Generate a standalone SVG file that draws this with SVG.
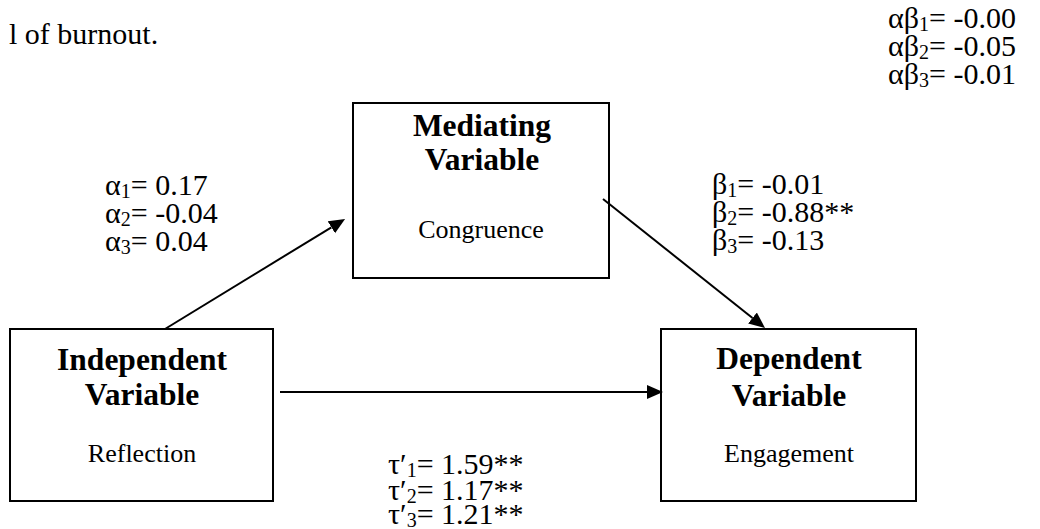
<svg xmlns="http://www.w3.org/2000/svg" width="1040" height="529" viewBox="0 0 1040 529">
  <style>
    text { font-family: "Liberation Serif", "Times New Roman", serif; fill: #000; }
    .title { font-size: 31.5px; font-weight: bold; text-anchor: middle; }
    .sub { font-size: 26px; text-anchor: middle; }
    .lbl { font-size: 30px; }
    .box { fill: #fff; stroke: #000; stroke-width: 2; }
    .edge { fill: none; stroke: #000; stroke-width: 2; }
  </style>
  <defs>
    <marker id="arrow" markerUnits="userSpaceOnUse" markerWidth="17" markerHeight="15" refX="0" refY="7" orient="auto">
      <path d="M0,0 L16,7 L0,14 Z" fill="#000"/>
    </marker>
  </defs>
  <rect width="1040" height="529" fill="#fff"/>

  <!-- running text fragment -->
  <text class="lbl" x="9" y="44">l of burnout.</text>

  <!-- indirect effects -->
  <g id="indirect-effects" class="lbl">
    <text x="888" y="28">αβ<tspan font-size="20" dy="3">1</tspan><tspan dy="-3">= -0.00</tspan></text>
    <text x="888" y="56">αβ<tspan font-size="20" dy="3">2</tspan><tspan dy="-3">= -0.05</tspan></text>
    <text x="888" y="84">αβ<tspan font-size="20" dy="3">3</tspan><tspan dy="-3">= -0.01</tspan></text>
  </g>

  <!-- nodes -->
  <g id="mediator">
    <rect class="box" x="353" y="103" width="256" height="175"/>
    <text class="title" x="482" y="136">Mediating</text>
    <text class="title" x="482" y="170">Variable</text>
    <text class="sub" x="481" y="238">Congruence</text>
  </g>
  <g id="independent">
    <rect class="box" x="10" y="329" width="263" height="172"/>
    <text class="title" x="142" y="370">Independent</text>
    <text class="title" x="142" y="405">Variable</text>
    <text class="sub" x="142" y="462">Reflection</text>
  </g>
  <g id="dependent">
    <rect class="box" x="661" y="329" width="255" height="172"/>
    <text class="title" x="789" y="369">Dependent</text>
    <text class="title" x="789" y="406">Variable</text>
    <text class="sub" x="789" y="462">Engagement</text>
  </g>

  <!-- connectors -->
  <g id="connectors">
    <line class="edge" x1="165" y1="329" x2="331.4" y2="227.3" marker-end="url(#arrow)"/>
    <line class="edge" x1="603" y1="199" x2="752.5" y2="318" marker-end="url(#arrow)"/>
    <line class="edge" x1="280" y1="392" x2="647" y2="392" marker-end="url(#arrow)"/>
  </g>

  <!-- path coefficients -->
  <g id="a-paths" class="lbl">
    <text x="105" y="195">α<tspan font-size="20" dy="3">1</tspan><tspan dy="-3">= 0.17</tspan></text>
    <text x="105" y="223">α<tspan font-size="20" dy="3">2</tspan><tspan dy="-3">= -0.04</tspan></text>
    <text x="105" y="251">α<tspan font-size="20" dy="3">3</tspan><tspan dy="-3">= 0.04</tspan></text>
  </g>
  <g id="b-paths" class="lbl">
    <text x="712" y="194">β<tspan font-size="20" dy="3">1</tspan><tspan dy="-3">= -0.01</tspan></text>
    <text x="712" y="222">β<tspan font-size="20" dy="3">2</tspan><tspan dy="-3">= -0.88**</tspan></text>
    <text x="712" y="250">β<tspan font-size="20" dy="3">3</tspan><tspan dy="-3">= -0.13</tspan></text>
  </g>
  <g id="direct-paths" class="lbl">
    <text x="388" y="474">τ′<tspan font-size="20" dy="3">1</tspan><tspan dy="-3">= 1.59**</tspan></text>
    <text x="388" y="500">τ′<tspan font-size="20" dy="3">2</tspan><tspan dy="-3">= 1.17**</tspan></text>
    <text x="388" y="524">τ′<tspan font-size="20" dy="3">3</tspan><tspan dy="-3">= 1.21**</tspan></text>
  </g>
</svg>
